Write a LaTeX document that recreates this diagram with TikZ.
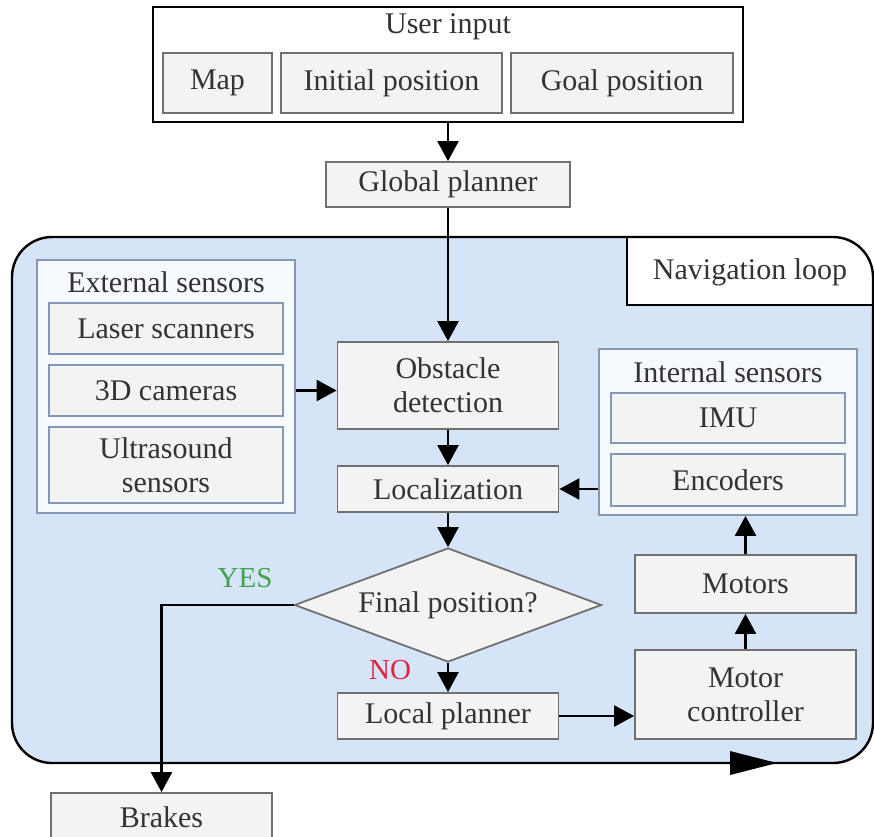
\documentclass[tikz,border=0pt]{standalone}
\usepackage{fontspec}
\setmainfont{Liberation Serif}
\usetikzlibrary{arrows.meta,shapes.geometric,calc}
\definecolor{navfill}{HTML}{D6E4F8}
\definecolor{boxfill}{HTML}{F3F3F3}
\definecolor{boxline}{HTML}{707070}
\definecolor{sensline}{HTML}{8497B4}
\definecolor{grpfill}{HTML}{F6F9FE}
\definecolor{txt}{HTML}{333333}
\definecolor{yesgreen}{HTML}{3FA34D}
\definecolor{nored}{HTML}{E0233C}
\tikzset{
  every node/.style={font=\fontsize{30}{34}\selectfont, text=txt, align=center},
  plainbox/.style={draw=boxline, fill=boxfill, line width=1.8pt, inner sep=0pt},
  sensbox/.style={draw=sensline, fill=boxfill, line width=1.8pt, inner sep=0pt},
  grpbox/.style={draw=sensline, fill=grpfill, line width=1.8pt, inner sep=0pt},
  arr/.style={line width=2.4pt, -{Triangle[length=20pt,width=21pt]}},
  lbl/.style={font=\fontsize{29}{33}\selectfont}
}
\begin{document}
\begin{tikzpicture}[x=1pt,y=-1pt]
\clip (0,0) rectangle (874,836);
\fill[white] (0,0) rectangle (874,836);

% navigation loop background
\path[fill=navfill, rounded corners=40pt] (12,237) rectangle (873,763);
\path[fill=white] (627,305) -- (627,237) [rounded corners=40pt] -- (873,237) [sharp corners] -- (873,305) -- cycle;
\draw[line width=1.8pt] (627,237) -- (627,305) -- (873,305);
\draw[line width=2.4pt, rounded corners=40pt] (12,237) rectangle (873,763);
\node (navlbl) at (750,272) {Navigation loop};
\fill (730,751) -- (777,763) -- (730,775) -- cycle;

% user input
\node[draw=black, fill=white, line width=2.4pt, minimum width=590pt, minimum height=115pt, inner sep=0pt] (userin) at (448,64.5) {};
\node (usertitle) at (448,27) {User input};
\node[plainbox, minimum width=109pt, minimum height=60pt] (map) at (217.5,83) {Map};
\node[plainbox, minimum width=221pt, minimum height=60pt] (init) at (391.5,83) {Initial position};
\node[plainbox, minimum width=222pt, minimum height=60pt] (goal) at (622,83) {Goal position};

\node[plainbox, minimum width=244pt, minimum height=45pt] (global) at (448,184.5) {Global planner};

% external sensors
\node[grpbox, minimum width=258pt, minimum height=253pt] (extgrp) at (166,386.5) {};
\node (exttitle) at (166,282) {External sensors};
\node[sensbox, minimum width=234pt, minimum height=51pt] (laser) at (166,328.5) {Laser scanners};
\node[sensbox, minimum width=234pt, minimum height=51pt] (cams) at (166,390.5) {3D cameras};
\node[sensbox, minimum width=234pt, minimum height=76pt] (ultra) at (166,465) {Ultrasound\\sensors};

% internal sensors
\node[grpbox, minimum width=258pt, minimum height=166pt] (intgrp) at (728,432) {};
\node (inttitle) at (728,372) {Internal sensors};
\node[sensbox, minimum width=234pt, minimum height=50pt] (imu) at (728,418) {IMU};
\node[sensbox, minimum width=234pt, minimum height=52pt] (enc) at (728,480) {Encoders};

% main column
\node[plainbox, minimum width=221pt, minimum height=87pt] (obst) at (448,385.5) {Obstacle\\detection};
\node[plainbox, minimum width=221pt, minimum height=46pt] (loc) at (448,489) {Localization};
\node[plainbox, diamond, aspect=2.7, minimum width=307pt, minimum height=114pt] (dec) at (448,605) {Final position?};
\node[plainbox, minimum width=221pt, minimum height=46pt] (local) at (448,716) {Local planner};
\node[plainbox, minimum width=221pt, minimum height=89pt] (motctl) at (745.5,694.5) {Motor\\controller};
\node[plainbox, minimum width=221pt, minimum height=58pt] (motors) at (745.5,584) {Motors};
\node[plainbox, minimum width=221pt, minimum height=48pt] (brakes) at (161.5,817) {Brakes};

\node[lbl, text=yesgreen] (yes) at (245,578) {YES};
\node[lbl, text=nored] (no) at (390,670) {NO};

% connectors
\draw[arr] (userin.south) -- (global.north);
\draw[arr] (global.south) -- (obst.north);
\draw[arr] (cams -| extgrp.east) -- (cams -| obst.west);
\draw[arr] (obst.south) -- (loc.north);
\draw[arr] (loc.south) -- (dec.north);
\draw[arr] (loc -| intgrp.west) -- (loc.east);
\draw[arr] (dec.west) -- (brakes.north |- dec.west) -- (brakes.north);
\draw[arr] (dec.south) -- (local.north);
\draw[arr] (local.east) -- (local -| motctl.west);
\draw[arr] (motctl.north) -- (motors.south);
\draw[arr] (motors.north) -- (motors.north |- intgrp.south);
\end{tikzpicture}
\end{document}
